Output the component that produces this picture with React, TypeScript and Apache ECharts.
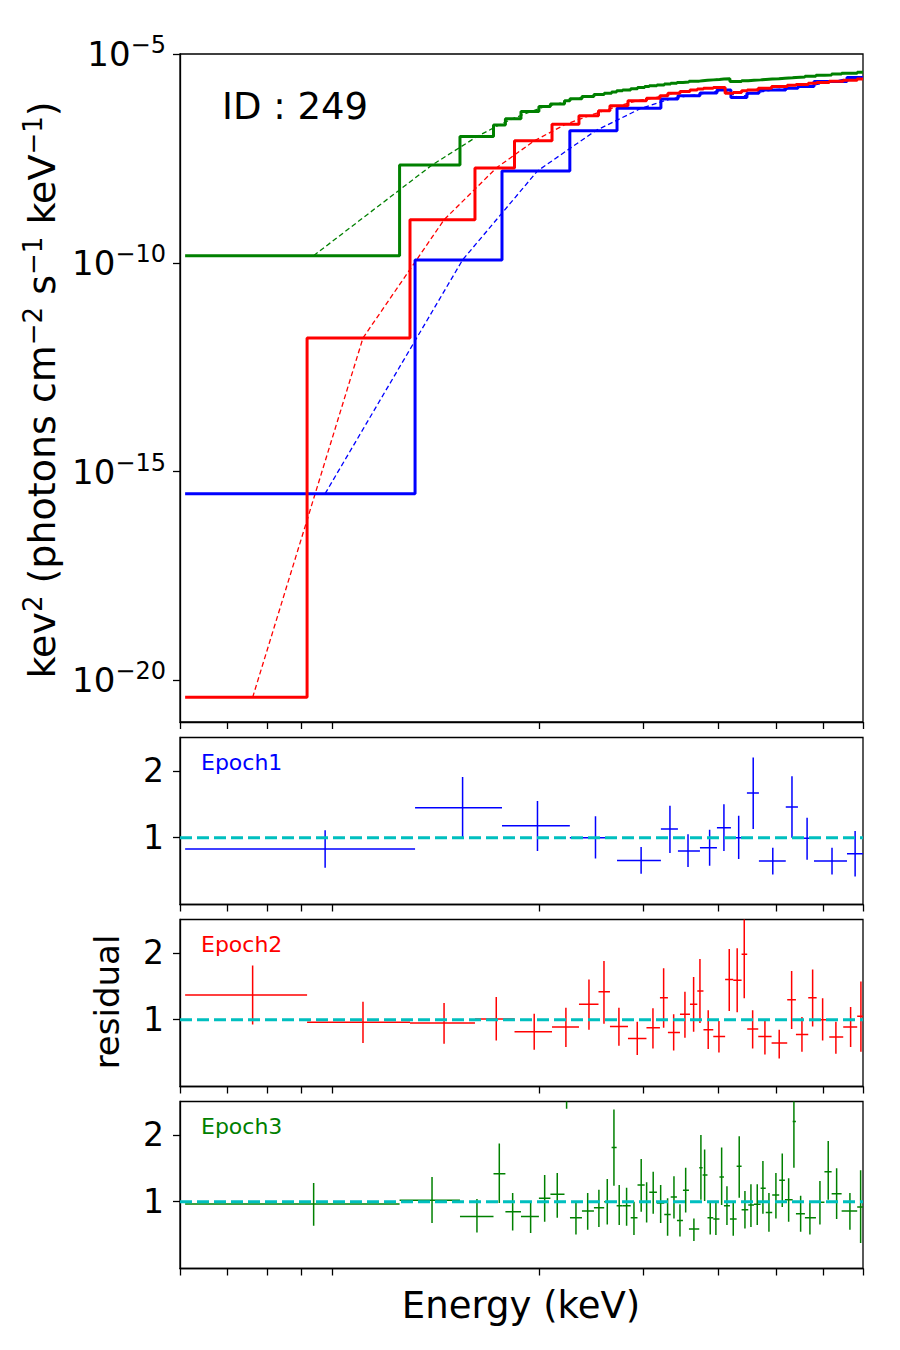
import React, { useEffect, useRef } from 'react';
import * as echarts from 'echarts';

// ---------- axis ticks ----------
const xTickValues = [0.5, 0.6, 0.7, 0.8, 0.9, 2, 3, 4, 5, 6, 7];
const yTickExponents = [-20, -15, -10, -5];
const residualTicks = [1, 2];

// ---------- Epoch 1 (blue) ----------
const e1Edges = [0.51, 1.24, 1.735, 2.255, 2.706, 3.206, 3.424, 3.728, 3.981, 4.202, 4.47, 4.682, 5.194, 5.444, 5.792, 6.58, 7.0];
const e1Centers = [0.876, 1.49, 1.99, 2.49, 2.97, 3.32, 3.56, 3.87, 4.09, 4.33, 4.58, 4.94, 5.32, 5.64, 6.21, 6.79];
const e1Model = [2.95e-16, 1.17e-10, 1.58e-8, 1.45e-7, 5.01e-7, 8.32e-7, 1.0e-6, 1.17e-6, 1.38e-6, 9.12e-7, 1.15e-6, 1.38e-6, 1.51e-6, 1.66e-6, 2.19e-6, 2.75e-6];
const e1Ratio = [0.83, 1.45, 1.18, 1.0, 0.66, 1.13, 0.8, 0.85, 1.15, 1.0, 1.67, 0.65, 1.46, 0.99, 0.65, 0.76];
const e1Lo = [0.55, 1.0, 0.8, 0.69, 0.46, 0.77, 0.56, 0.58, 0.8, 0.68, 1.13, 0.45, 1.0, 0.67, 0.45, 0.42];
const e1Hi = [1.11, 1.91, 1.55, 1.32, 0.86, 1.48, 1.05, 1.12, 1.5, 1.33, 2.2, 0.85, 1.92, 1.3, 0.85, 1.1];

// ---------- Epoch 2 (red) ----------
const e2Edges = [0.51, 0.817, 1.216, 1.563, 1.821, 2.105, 2.336, 2.519, 2.633, 2.823, 3.032, 3.194, 3.294, 3.451, 3.587, 3.69, 3.779, 3.925, 4.109, 4.24, 4.379, 4.475, 4.67, 4.917, 5.223, 5.402, 5.665, 5.852, 6.144, 6.485, 6.845, 7.0];
const e2Centers = [0.662, 1.014, 1.387, 1.697, 1.965, 2.221, 2.428, 2.573, 2.726, 2.926, 3.109, 3.24, 3.368, 3.518, 3.638, 3.728, 3.849, 4.012, 4.175, 4.305, 4.424, 4.57, 4.792, 5.064, 5.313, 5.529, 5.762, 5.989, 6.304, 6.673, 6.944];
const e2Model = [3.89e-21, 1.58e-12, 1.07e-9, 1.86e-8, 8.32e-8, 2.09e-7, 3.31e-7, 4.37e-7, 5.75e-7, 7.59e-7, 8.71e-7, 1.0e-6, 1.15e-6, 1.26e-6, 1.38e-6, 1.45e-6, 1.51e-6, 1.58e-6, 1.15e-6, 1.2e-6, 1.32e-6, 1.38e-6, 1.51e-6, 1.66e-6, 1.78e-6, 1.86e-6, 2.0e-6, 2.09e-6, 2.24e-6, 2.34e-6, 2.51e-6];
const e2Ratio = [1.37, 0.96, 0.95, 1.01, 0.82, 0.89, 1.23, 1.42, 0.9, 0.72, 0.88, 1.33, 0.81, 1.08, 1.23, 1.43, 0.85, 0.75, 1.6, 1.59, 1.98, 0.86, 0.75, 0.65, 1.3, 0.78, 1.33, 1.0, 0.74, 0.89, 1.05];
const e2Lo = [0.93, 0.65, 0.64, 0.69, 0.55, 0.59, 0.85, 0.94, 0.61, 0.47, 0.57, 0.88, 0.54, 0.73, 0.82, 0.95, 0.56, 0.51, 1.13, 1.11, 1.32, 0.57, 0.48, 0.42, 0.86, 0.52, 0.9, 0.69, 0.49, 0.59, 0.52];
const e2Hi = [1.81, 1.27, 1.25, 1.34, 1.09, 1.18, 1.6, 1.88, 1.18, 0.97, 1.17, 1.77, 1.08, 1.42, 1.64, 1.91, 1.14, 0.98, 2.06, 2.07, 2.6, 1.14, 0.98, 0.85, 1.73, 1.04, 1.75, 1.32, 0.97, 1.19, 1.57];

// ---------- Epoch 3 (green) ----------
const e3Edges = [0.51, 1.168, 1.475, 1.679, 1.758, 1.867, 2.001, 2.092, 2.209, 2.256, 2.363, 2.475, 2.575, 2.65, 2.702, 2.765, 2.853, 2.929, 3.011, 3.065, 3.157, 3.248, 3.33, 3.411, 3.491, 3.573, 3.718, 3.767, 3.838, 3.925, 4.02, 4.09, 4.186, 4.296, 4.379, 4.493, 4.593, 4.713, 4.807, 4.929, 5.064, 5.177, 5.334, 5.402, 5.593, 5.836, 6.031, 6.201, 6.445, 6.845, 7.0];
const e3Centers = [0.838, 1.324, 1.575, 1.717, 1.808, 1.938, 2.046, 2.148, 2.227, 2.309, 2.416, 2.523, 2.606, 2.674, 2.729, 2.808, 2.889, 2.971, 3.034, 3.112, 3.203, 3.29, 3.372, 3.451, 3.528, 3.642, 3.742, 3.796, 3.879, 3.965, 4.054, 4.138, 4.24, 4.339, 4.436, 4.54, 4.652, 4.755, 4.867, 5.0, 5.124, 5.252, 5.36, 5.501, 5.702, 5.927, 6.12, 6.322, 6.655, 6.936];
const e3Model = [1.48e-10, 2.19e-8, 1.05e-7, 2.0e-7, 2.82e-7, 4.17e-7, 5.5e-7, 6.31e-7, 7.59e-7, 8.51e-7, 9.55e-7, 1.07e-6, 1.15e-6, 1.23e-6, 1.32e-6, 1.38e-6, 1.48e-6, 1.58e-6, 1.66e-6, 1.74e-6, 1.82e-6, 1.91e-6, 2.0e-6, 2.09e-6, 2.14e-6, 2.24e-6, 2.29e-6, 2.34e-6, 2.4e-6, 2.45e-6, 2.51e-6, 2.57e-6, 2.19e-6, 2.19e-6, 2.29e-6, 2.34e-6, 2.4e-6, 2.45e-6, 2.51e-6, 2.57e-6, 2.63e-6, 2.69e-6, 2.75e-6, 2.82e-6, 2.95e-6, 3.09e-6, 3.16e-6, 3.31e-6, 3.47e-6, 3.63e-6];
const e3Ratio = [0.965, 1.02, 0.78, 1.42, 0.85, 0.78, 1.05, 1.11, 3.0, 0.76, 0.86, 0.91, 1.0, 1.81, 0.94, 0.94, 0.76, 1.25, 1.0, 1.14, 0.98, 0.81, 1.07, 0.72, 1.17, 0.59, 1.51, 1.4, 0.76, 0.74, 1.37, 0.94, 0.74, 1.53, 0.88, 0.95, 0.96, 1.2, 0.84, 1.1, 1.32, 1.03, 2.2, 0.82, 0.76, 0.99, 1.45, 1.12, 0.86, 0.92];
const e3Lo = [0.64, 0.68, 0.54, 0.98, 0.57, 0.53, 0.7, 0.76, 2.39, 0.51, 0.58, 0.62, 0.66, 1.24, 0.65, 0.64, 0.5, 0.85, 0.69, 0.82, 0.68, 0.49, 0.75, 0.48, 0.84, 0.41, 1.03, 1.01, 0.51, 0.5, 0.95, 0.65, 0.49, 1.06, 0.6, 0.62, 0.65, 0.82, 0.55, 0.75, 0.92, 0.7, 1.51, 0.55, 0.51, 0.66, 1.03, 0.74, 0.58, 0.38];
const e3Hi = [1.28, 1.37, 1.04, 1.87, 1.13, 1.01, 1.4, 1.43, 3.6, 1.0, 1.13, 1.18, 1.34, 2.38, 1.25, 1.21, 1.0, 1.64, 1.29, 1.45, 1.25, 1.05, 1.38, 0.96, 1.51, 0.75, 2.0, 1.78, 1.0, 0.98, 1.81, 1.23, 1.0, 1.98, 1.16, 1.26, 1.26, 1.61, 1.13, 1.43, 1.72, 1.35, 2.6, 1.09, 0.98, 1.31, 1.91, 1.5, 1.13, 1.47];

const epochs = [
  { name: 'Epoch1', color: '#0000ff', edges: e1Edges, centers: e1Centers, model: e1Model, ratio: e1Ratio, lo: e1Lo, hi: e1Hi },
  { name: 'Epoch2', color: '#ff0000', edges: e2Edges, centers: e2Centers, model: e2Model, ratio: e2Ratio, lo: e2Lo, hi: e2Hi },
  { name: 'Epoch3', color: '#008000', edges: e3Edges, centers: e3Centers, model: e3Model, ratio: e3Ratio, lo: e3Lo, hi: e3Hi },
];

const FONT = 'DejaVu Sans';
const X_MIN = 0.5;
const X_MAX = 7;

function buildOption() {
  const gridTops = [54, 737.5, 919.5, 1101.5];
  const gridHeights = [668, 167, 167, 167];
  const grid = gridTops.map((t, i) => ({
    left: 180, top: t, width: 683, height: gridHeights[i],
    containLabel: false, outerBoundsMode: 'none',
    show: true, borderColor: '#000', borderWidth: 1.3, backgroundColor: 'transparent',
  }));

  const hiddenAxis = {
    axisLine: { show: false, onZero: false }, axisTick: { show: false }, axisLabel: { show: false }, splitLine: { show: false },
  };

  const xAxis: any[] = [];
  for (let i = 0; i < 4; i++) {
    xAxis.push({ type: 'log', logBase: 10, gridIndex: i, position: 'bottom', min: X_MIN, max: X_MAX, ...hiddenAxis });
  }
  for (let i = 0; i < 4; i++) {
    xAxis.push({
      type: 'value', gridIndex: i, position: 'bottom', offset: 0, min: Math.log10(X_MIN), max: Math.log10(X_MAX),
      axisLine: { show: true, onZero: false, lineStyle: { color: '#000', width: 1.3 } },
      axisTick: { show: true, customValues: xTickValues.map((v) => Math.log10(v)), length: 7, lineStyle: { color: '#000', width: 1.3 } },
      axisLabel: { show: false }, splitLine: { show: false },
    });
  }

  const yAxis: any[] = [
    { type: 'log', logBase: 10, gridIndex: 0, position: 'left', min: 1e-21, max: 1e-5, ...hiddenAxis },
    {
      type: 'value', gridIndex: 0, position: 'left', offset: 0, min: -21, max: -5,
      axisLine: { show: true, onZero: false, lineStyle: { color: '#000', width: 1.3 } },
      axisTick: { show: true, customValues: yTickExponents, length: 7, lineStyle: { color: '#000', width: 1.3 } },
      axisLabel: {
        show: true, customValues: yTickExponents, margin: 14,
        formatter: (v: number) => `{b|10}{s|\u2212${Math.abs(v)}}`,
        rich: {
          b: { fontSize: 34, fontFamily: FONT, color: '#000', lineHeight: 42 },
          s: { fontSize: 24, fontFamily: FONT, color: '#000', verticalAlign: 'top', lineHeight: 24 },
        },
      },
      splitLine: { show: false },
    },
  ];
  for (let i = 1; i < 4; i++) {
    yAxis.push({
      type: 'value', gridIndex: i, position: 'left', min: 0, max: 2.5,
      axisLine: { show: true, onZero: false, lineStyle: { color: '#000', width: 1.3 } },
      axisTick: { show: true, customValues: residualTicks, length: 7, lineStyle: { color: '#000', width: 1.3 } },
      axisLabel: { show: true, customValues: residualTicks, margin: 16, fontSize: 33, fontFamily: FONT, color: '#000' },
      splitLine: { show: false },
    });
  }

  const series: any[] = [];
  // step (binned model) curves
  epochs.forEach((ep) => {
    series.push({
      type: 'line', xAxisIndex: 0, yAxisIndex: 0, step: 'end', symbol: 'none', silent: true, z: 3,
      lineStyle: { color: ep.color, width: 3 },
      data: ep.edges.map((e, i) => [e, ep.model[Math.min(i, ep.model.length - 1)]]),
    });
  });
  // dashed model curves through bin centres
  epochs.forEach((ep) => {
    series.push({
      type: 'line', xAxisIndex: 0, yAxisIndex: 0, symbol: 'none', silent: true, z: 2,
      lineStyle: { color: ep.color, width: 1.3, type: [5, 3] },
      data: ep.centers.map((c, i) => [c, ep.model[i]]),
    });
  });
  // residual panels
  epochs.forEach((ep, k) => {
    const g = k + 1;
    const color = ep.color;
    series.push({
      type: 'custom', xAxisIndex: g, yAxisIndex: g + 1, clip: true, silent: true, z: 3,
      data: ep.centers.map((c, i) => [c, ep.ratio[i], ep.edges[i], ep.edges[i + 1], ep.lo[i], ep.hi[i]]),
      encode: { x: 0, y: 1 },
      renderItem: (params: any, api: any) => {
        const xc = api.value(0), y = api.value(1), xl = api.value(2), xh = api.value(3), yl = api.value(4), yh = api.value(5);
        const pL = api.coord([xl, y]);
        const pR = api.coord([xh, y]);
        const pB = api.coord([xc, yl]);
        const pT = api.coord([xc, yh]);
        return {
          type: 'group',
          children: [
            { type: 'line', shape: { x1: pL[0], y1: pL[1], x2: pR[0], y2: pR[1] }, style: { stroke: color, lineWidth: 1.5 } },
            { type: 'line', shape: { x1: pB[0], y1: pB[1], x2: pT[0], y2: pT[1] }, style: { stroke: color, lineWidth: 1.5 } },
          ],
        };
      },
    });
    series.push({
      type: 'line', xAxisIndex: g, yAxisIndex: g + 1, symbol: 'none', silent: true, z: 5,
      lineStyle: { color: '#00bfbf', width: 3, type: [12, 5] },
      data: [[X_MIN, 1], [X_MAX, 1]],
    });
  });

  const graphic: any[] = [
    { type: 'text', x: 222, y: 106, style: { text: 'ID : 249', fontSize: 37, fontFamily: FONT, fill: '#000', verticalAlign: 'middle' } },
    ...epochs.map((ep, k) => ({
      type: 'text', x: 201, y: [762, 944, 1126][k],
      style: { text: ep.name, fontSize: 22, fontFamily: FONT, fill: ep.color, verticalAlign: 'middle' },
    })),
    {
      type: 'text', x: 42, y: 390, rotation: Math.PI / 2,
      style: {
        text: '{n|kev}{s|2}{n| (photons cm}{s|\u22122}{n| s}{s|\u22121}{n| keV}{s|\u22121}{n|)}',
        align: 'center', verticalAlign: 'middle', fill: '#000',
        rich: {
          n: { fontSize: 38, fontFamily: FONT, fill: '#000', lineHeight: 44 },
          s: { fontSize: 26, fontFamily: FONT, fill: '#000', verticalAlign: 'top', lineHeight: 26 },
        },
      },
    },
    {
      type: 'text', x: 107, y: 1002, rotation: Math.PI / 2,
      style: { text: 'residual', fontSize: 34, fontFamily: FONT, fill: '#000', align: 'center', verticalAlign: 'middle' },
    },
    {
      type: 'text', x: 521, y: 1305,
      style: { text: 'Energy (keV)', fontSize: 37, fontFamily: FONT, fill: '#000', align: 'center', verticalAlign: 'middle' },
    },
  ];

  return {
    animation: false,
    backgroundColor: '#fff',
    grid, xAxis, yAxis, series, graphic,
  };
}

export default function App() {
  const ref = useRef<HTMLDivElement>(null);
  useEffect(() => {
    document.body.style.margin = '0';
    const chart = echarts.init(ref.current as HTMLDivElement, null, { renderer: 'svg' });
    chart.setOption(buildOption() as any);
    return () => chart.dispose();
  }, []);
  return <div ref={ref} style={{ width: 900, height: 1350 }} />;
}
